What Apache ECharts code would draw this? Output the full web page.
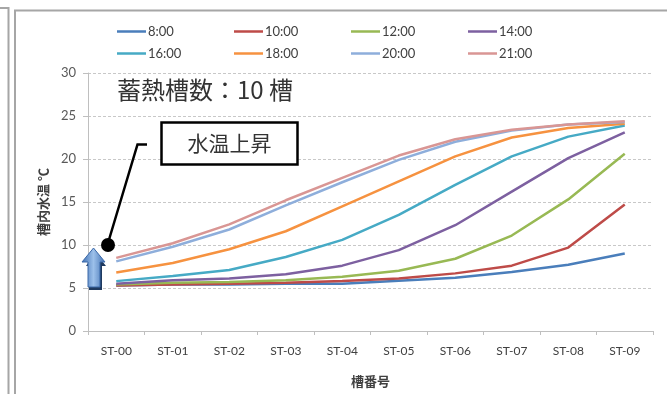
<!DOCTYPE html>
<html><head><meta charset="utf-8">
<script src="https://cdn.jsdelivr.net/npm/echarts@6/dist/echarts.min.js"></script>
<style>html,body{margin:0;padding:0;background:#fff}#c{width:667px;height:394px}</style>
</head><body><div id="c"></div>
<script>
const categories = ['ST-00','ST-01','ST-02','ST-03','ST-04','ST-05','ST-06','ST-07','ST-08','ST-09'];
const seriesNames = ['8:00','10:00','12:00','14:00','16:00','18:00','20:00','21:00'];
const s0800 = [5.3, 5.4, 5.4, 5.5, 5.5, 5.85, 6.2, 6.85, 7.7, 9.0];
const s1000 = [5.3, 5.4, 5.5, 5.6, 5.8, 6.1, 6.7, 7.6, 9.7, 14.7];
const s1200 = [5.4, 5.6, 5.7, 5.9, 6.3, 7.0, 8.4, 11.1, 15.3, 20.6];
const s1400 = [5.5, 5.9, 6.1, 6.6, 7.6, 9.4, 12.3, 16.2, 20.1, 23.1];
const s1600 = [5.8, 6.4, 7.1, 8.6, 10.6, 13.5, 17.0, 20.3, 22.6, 23.9];
const s1800 = [6.8, 7.9, 9.5, 11.6, 14.5, 17.4, 20.3, 22.5, 23.6, 24.1];
const s2000 = [8.1, 9.8, 11.8, 14.6, 17.3, 19.9, 22.0, 23.3, 24.0, 24.3];
const s2100 = [8.5, 10.2, 12.4, 15.2, 17.8, 20.4, 22.3, 23.4, 24.0, 24.4];
const yTicks = { min: 0, max: 30, interval: 5 };
const colors = ['#4a7ebb','#be4b48','#98b954','#7d60a0','#46aac5','#f69240','#8eaedb','#d99694'];
const allData = [s0800, s1000, s1200, s1400, s1600, s1800, s2000, s2100];

const cjk = '"Noto Sans CJK JP", sans-serif';
const lat = 'Lato, "Noto Sans CJK JP", sans-serif';

const series = seriesNames.map((n, i) => ({
  name: n, type: 'line', data: allData[i], symbol: 'none',
  lineStyle: { width: 2.5, color: colors[i] }, itemStyle: { color: colors[i] },
  z: 2 + i
}));

const legends = seriesNames.map((n, i) => ({
  left: 117 + (i % 4) * 117, top: i < 4 ? 25 : 47,
  itemWidth: 29, itemHeight: 10, itemGap: 0, padding: 0,
  textStyle: { fontFamily: lat, fontSize: 13, color: '#404040', padding: [0, 0, 0, -3] },
  icon: 'path://M0,4 L29,4 L29,6.5 L0,6.5 Z',
  data: [n]
}));

const chart = echarts.init(document.getElementById('c'));
chart.setOption({
  animation: false,
  grid: { left: 88, right: 14, top: 73, bottom: 63 },
  legend: legends,
  xAxis: {
    type: 'category', data: categories, boundaryGap: true,
    name: '槽番号', nameLocation: 'middle', nameGap: 44,
    nameTextStyle: { fontFamily: cjk, fontSize: 13, fontWeight: 'bold', color: '#404040' },
    axisLine: { lineStyle: { color: '#bfbfbf', width: 1 } },
    axisTick: { show: true, alignWithLabel: false, length: 4, lineStyle: { color: '#bfbfbf' } },
    axisLabel: { fontFamily: lat, fontSize: 12, color: '#404040', margin: 14 }
  },
  yAxis: {
    type: 'value', min: yTicks.min, max: yTicks.max, interval: yTicks.interval,
    name: '槽内水温 ℃', nameLocation: 'middle', nameGap: 38, nameRotate: 90,
    nameTextStyle: { fontFamily: cjk, fontSize: 13, fontWeight: 'bold', color: '#404040' },
    axisLine: { show: true, lineStyle: { color: '#bfbfbf', width: 1 } },
    axisTick: { show: true, length: 5, lineStyle: { color: '#bfbfbf' } },
    axisLabel: { fontFamily: lat, fontSize: 13, color: '#595959', margin: 12 },
    splitLine: { lineStyle: { color: '#c8c8c8', type: [3, 2], width: 1 } }
  },
  series: series,
  graphic: [
    { type: 'polyline', shape: { points: [[0, 8], [8.5, 8], [8.5, 394]] }, style: { stroke: '#a6a6a6', lineWidth: 2, fill: null }, silent: true },
    { type: 'rect', shape: { x: 15, y: 10.5, width: 660, height: 400 }, style: { stroke: '#a6a6a6', lineWidth: 2, fill: null }, silent: true },
    { type: 'text', left: 117, top: 78, style: { text: '蓄熱槽数：10 槽', font: '24px ' + cjk, fill: '#333333' }, z: 20 },
    { type: 'rect', shape: { x: 161.5, y: 122.5, width: 136, height: 42 }, style: { stroke: '#000', lineWidth: 2.5, fill: '#fff' }, z: 20 },
    { type: 'text', x: 229.5, y: 143.5, style: { text: '水温上昇', font: '21px ' + cjk, fill: '#333333', align: 'center', verticalAlign: 'middle' }, z: 21 },
    { type: 'polyline', shape: { points: [[147, 144.5], [137.5, 144.5], [108, 243]] }, style: { stroke: '#000', lineWidth: 2.5, fill: null }, z: 20 },
    { type: 'circle', shape: { cx: 108, cy: 245, r: 7 }, style: { fill: '#000' }, z: 22 },
    { type: 'polygon', shape: { points: [[86, 266], [89, 266], [89, 290], [102, 290], [102, 266], [106, 266], [95, 252]] }, style: { fill: '#1f3a5f' }, z: 18 },
    { type: 'polygon', shape: { points: [[82, 262], [88, 262], [88, 287], [100, 287], [100, 262], [105, 262], [93.5, 248]] },
      style: { fill: new echarts.graphic.LinearGradient(0, 0, 1, 0, [{ offset: 0, color: '#3d6db0' }, { offset: 0.5, color: '#9cc0ea' }, { offset: 1, color: '#3d6db0' }]), stroke: '#3a68a8', lineWidth: 1 }, z: 19 }
  ]
});
</script></body></html>
